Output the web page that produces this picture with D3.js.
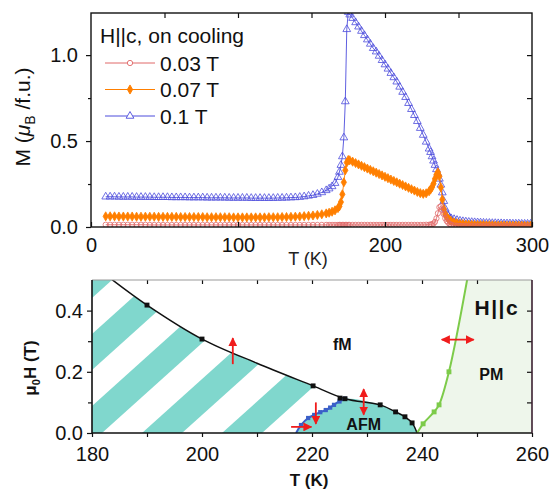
<!DOCTYPE html>
<html>
<head>
<meta charset="utf-8">
<script src="https://cdn.jsdelivr.net/npm/d3@7"></script>
<style>
  body { margin: 0; background: #fff; }
  svg { display: block; font-family: Arial, "Liberation Sans", sans-serif; }
</style>
</head>
<body>
<svg id="chart" width="550" height="489"></svg>
<script>
// ---- top panel: M(T) on cooling, H||c ----
const temps = [
  10,13,16,19,22,25,28,31,34,37, 40,43,46,49,52,55,58,61,64,67,
  70,73,76,79,82,85,88,91,94,97, 100,103,106,109,112,115,118,121,124,127,
  130,133,136,139,142,145,148,
  151,154,157,160,162,164,166,168,169,170,171,172,173,174,175,176,178,180,
  182,184,186,188,190,192,194,196,198,200, 202,204,206,208,210,212,214,216,218,220,
  222,224,226,228,230,
  231,232,233,234,235,236,237,238,239,240,241,242,243,244,245,
  247,249,251,253,255,257,259,261,263,265, 267,269,271,273,275,277,279,281,283,285,
  287,289,291,293,295,297,299
];
const m01 = [
  .176,.176,.176,.175,.175,.175,.175,.174,.174,.174, .174,.173,.173,.173,.173,.172,.172,.172,.172,.171,
  .171,.171,.171,.170,.170,.170,.170,.170,.169,.169, .169,.169,.169,.168,.168,.168,.168,.168,.168,.169,
  .169,.170,.171,.172,.174,.177,.181,
  .185,.192,.201,.213,.223,.236,.255,.29,.32,.36,.41,.52,.73,1.15,1.25,1.235,1.215,1.19,
  1.165,1.14,1.115,1.09,1.065,1.04,1.02,.995,.97,.945, .92,.895,.87,.845,.815,.785,.755,.72,.685,.65,
  .615,.575,.535,.495,.455,
  .435,.41,.385,.36,.335,.31,.28,.245,.20,.15,.105,.08,.065,.055,.05,
  .045,.04,.036,.033,.031,.029,.028,.027,.026,.025, .024,.023,.023,.022,.022,.021,.021,.020,.020,.020,
  .019,.019,.019,.018,.018,.018,.018
];
const m007 = [
  .062,.062,.062,.061,.061,.061,.061,.060,.060,.060, .060,.060,.059,.059,.059,.059,.059,.058,.058,.058,
  .058,.058,.058,.057,.057,.057,.057,.057,.057,.056, .056,.056,.056,.056,.056,.056,.056,.057,.057,.057,
  .058,.058,.059,.060,.061,.063,.065,
  .067,.070,.074,.079,.083,.089,.097,.11,.12,.145,.19,.26,.33,.375,.39,.388,.38,.372,
  .364,.356,.348,.340,.332,.324,.316,.308,.300,.292, .284,.276,.268,.260,.252,.244,.236,.228,.220,.212,
  .204,.197,.193,.196,.208,
  .218,.232,.252,.28,.305,.318,.295,.23,.16,.105,.075,.058,.048,.04,.034,
  .027,.022,.019,.017,.015,.014,.013,.012,.012,.011, .011,.010,.010,.010,.009,.009,.009,.009,.008,.008,
  .008,.008,.008,.008,.007,.007,.007
];
const m003 = [
  .013,.013,.013,.013,.013,.013,.013,.013,.013,.013, .012,.012,.012,.012,.012,.012,.012,.012,.012,.012,
  .012,.012,.012,.012,.012,.012,.012,.012,.012,.012, .012,.012,.012,.012,.012,.012,.012,.012,.012,.012,
  .012,.012,.012,.012,.012,.012,.012,
  .012,.012,.012,.012,.012,.012,.012,.012,.012,.012,.012,.012,.012,.012,.012,.012,.012,.012,
  .012,.012,.012,.012,.012,.012,.012,.012,.012,.012, .012,.012,.012,.012,.012,.012,.012,.012,.012,.012,
  .012,.012,.012,.013,.013,
  .014,.016,.02,.03,.05,.08,.115,.12,.10,.075,.05,.035,.025,.018,.013,
  .009,.007,.006,.006,.005,.005,.005,.005,.005,.005, .005,.005,.005,.005,.005,.005,.005,.005,.005,.005,
  .005,.005,.005,.005,.005,.005,.005
];
const topXTicks = [0, 100, 200, 300];
const topYTicks = [0, 0.5, 1.0];
const legendLabels = ['0.03 T', '0.07 T', '0.1 T'];

// ---- bottom panel: phase diagram ----
const fmT = [183, 190, 200, 210, 220.2, 226, 232.4, 235.2, 236.9, 238.2, 239.1];
const fmH = [0.51, 0.418, 0.307, 0.228, 0.154, 0.112, 0.092, 0.069, 0.053, 0.033, 0];
const fmMarkT = [190, 200, 220.2, 225.1, 226, 232.4, 235.2, 236.9, 238.2];
const fmMarkH = [0.418, 0.307, 0.154, 0.114, 0.112, 0.092, 0.069, 0.053, 0.033];
const afmT = [217.1, 218, 219.3, 220.4, 221.5, 222.5, 223.3, 224, 225, 226];
const afmH = [0, 0.026, 0.049, 0.059, 0.068, 0.075, 0.083, 0.092, 0.103, 0.112];
const pmT = [239.1, 240.2, 242.2, 243.1, 244.9, 248.3];
const pmH = [0, 0.03, 0.069, 0.092, 0.2, 0.51];
const arrowFrom = [[205.6, 0.225], [229.4, 0.06], [220.7, 0.10], [216.2, 0.02], [243.6, 0.305]];
const arrowTo   = [[205.6, 0.31],  [229.4, 0.143], [220.7, 0.03], [219.9, 0.02], [249.4, 0.305]];
const arrowBoth = [false, true, false, false, true];
const botXTicks = [180, 200, 220, 240, 260];
const botYTicks = [0, 0.2, 0.4];

const svg = d3.select('#chart');
const defs = svg.append('defs');

function styleAxis(g, size) {
  g.select('.domain').remove();
  g.selectAll('.tick line').attr('stroke', '#111').attr('stroke-width', 1.2);
  g.selectAll('.tick text').attr('fill', '#111').style('font-size', size + 'px');
}

// ================= top panel =================
const x1 = d3.scaleLinear().domain([0, 300]).range([91, 532]);
const y1 = d3.scaleLinear().domain([0, 1.245]).range([227, 13]);

defs.append('clipPath').attr('id', 'clipTop').append('rect')
  .attr('x', 91).attr('y', 13).attr('width', 441).attr('height', 214);

const series = [
  { values: m01, color: '#4d4ddc', symbol: d3.symbolTriangle, size: 26, filled: false },
  { values: m007, color: '#ff7f00', symbol: d3.symbolDiamond, size: 24, filled: true },
  { values: m003, color: '#e06868', symbol: d3.symbolCircle, size: 22, filled: false }
];

const plotTop = svg.append('g').attr('clip-path', 'url(#clipTop)');
series.forEach(s => {
  const line = d3.line().x((d, i) => x1(temps[i])).y(d => y1(d));
  plotTop.append('path').attr('d', line(s.values))
    .attr('fill', 'none').attr('stroke', s.color).attr('stroke-width', 0.9);
  plotTop.append('g').selectAll('path').data(s.values).join('path')
    .attr('d', d3.symbol(s.symbol, s.size))
    .attr('transform', (d, i) => `translate(${x1(temps[i])},${y1(d)})`)
    .attr('fill', s.filled ? s.color : 'none')
    .attr('stroke', s.color).attr('stroke-width', 0.8);
});

// axes
svg.append('g').attr('transform', 'translate(91,0)')
  .call(d3.axisLeft(y1).tickValues(topYTicks).tickFormat(d3.format('.1f')).tickSize(5).tickPadding(8))
  .call(g => styleAxis(g, 20));
svg.append('g').attr('transform', 'translate(91,0)')
  .call(d3.axisLeft(y1).tickValues([0.25, 0.75]).tickFormat('').tickSize(3))
  .call(g => styleAxis(g, 20));
svg.append('g').attr('transform', 'translate(0,227)')
  .call(d3.axisBottom(x1).tickValues(topXTicks).tickFormat(d3.format('d')).tickSize(-5).tickPadding(11))
  .call(g => styleAxis(g, 20));
svg.append('g').attr('transform', 'translate(0,13)')
  .call(d3.axisTop(x1).tickValues(d3.range(50, 300, 50)).tickFormat('').tickSize(-5))
  .call(g => styleAxis(g, 20));
svg.append('g').attr('transform', 'translate(532,0)')
  .call(d3.axisRight(y1).tickValues([0.25, 0.5, 0.75, 1.0]).tickFormat('').tickSize(-5))
  .call(g => styleAxis(g, 20));
svg.append('rect').attr('x', 91).attr('y', 13).attr('width', 441).attr('height', 214)
  .attr('fill', 'none').attr('stroke', '#111').attr('stroke-width', 1.4);

// legend
const leg = svg.append('g');
leg.append('text').attr('x', 100).attr('y', 43).style('font-size', '21px').attr('fill', '#111')
  .text('H||c, on cooling');
[series[2], series[1], series[0]].forEach((s, i) => {
  const cy = 63 + i * 26.5;
  leg.append('line').attr('x1', 105).attr('x2', 155).attr('y1', cy).attr('y2', cy)
    .attr('stroke', s.color).attr('stroke-width', 1);
  leg.append('path').attr('d', d3.symbol(s.symbol, s.size)())
    .attr('transform', `translate(130,${cy})`)
    .attr('fill', s.filled ? s.color : '#fff').attr('stroke', s.color).attr('stroke-width', 0.9);
  leg.append('text').attr('x', 160).attr('y', cy + 7.5).style('font-size', '21px').attr('fill', '#111')
    .text(legendLabels[i]);
});

// axis titles
const yl = svg.append('text').attr('transform', 'translate(30,117) rotate(-90)')
  .attr('text-anchor', 'middle').style('font-size', '21px').attr('fill', '#111');
yl.append('tspan').text('M (');
yl.append('tspan').style('font-style', 'italic').text('\u03bc');
yl.append('tspan').attr('dy', 5).style('font-size', '14px').text('B');
yl.append('tspan').attr('dy', -5).text(' /f.u.)');
svg.append('text').attr('x', 308).attr('y', 265).attr('text-anchor', 'middle')
  .style('font-size', '18px').attr('fill', '#222').text('T (K)');

// ================= bottom panel =================
const x2 = d3.scaleLinear().domain([180, 260]).range([92, 532]);
const y2 = d3.scaleLinear().domain([0, 0.5]).range([433, 280]);
const cyan = '#80d7cd';

defs.append('clipPath').attr('id', 'clipBot').append('rect')
  .attr('x', 92).attr('y', 280).attr('width', 440).attr('height', 153);

const pts = (ts, hs) => ts.map((t, i) => [x2(t), y2(hs[i])]);
const curve = d3.curveCatmullRom;
const plotBot = svg.append('g').attr('clip-path', 'url(#clipBot)');

// PM region
const pmPts = pts(pmT, pmH);
const pmPath = d3.line().curve(curve)(pmPts) +
  `L${x2(260)},${pmPts[pmPts.length - 1][1]}L${x2(260)},${y2(0)}Z`;
plotBot.append('path').attr('d', pmPath).attr('fill', '#eef6eb');

// striped region below fM boundary
const sc = defs.append('clipPath').attr('id', 'clipStripe');
sc.append('rect').attr('x', x2(180)).attr('y', 270).attr('width', x2(fmT[0]) - x2(180)).attr('height', 170);
sc.append('path').attr('d', d3.area().curve(curve).x(d => d[0]).y0(y2(0)).y1(d => d[1])(pts(fmT, fmH)));
const stripes = plotBot.append('g').attr('clip-path', 'url(#clipStripe)');
const period = 80, band = 40, shift = (y2(0) - y2(0.5)) / 0.9, x0 = 62;
stripes.selectAll('path').data(d3.range(-4, 7)).join('path')
  .attr('d', k => {
    const a = x0 + k * period;
    return `M${a},${y2(0)}L${a + band},${y2(0)}L${a + band + shift},${y2(0.5)}L${a + shift},${y2(0.5)}Z`;
  })
  .attr('fill', cyan);

// AFM dome
const domeIdx = fmT.findIndex(t => t > 226);
const afmPts = pts(afmT, afmH).concat(pts(fmT.slice(domeIdx), fmH.slice(domeIdx)));
plotBot.append('path').attr('d', d3.line().curve(curve)(afmPts) + 'Z').attr('fill', cyan);

// boundary lines
plotBot.append('path').attr('d', d3.line().curve(curve)(pts(fmT, fmH)))
  .attr('fill', 'none').attr('stroke', '#111').attr('stroke-width', 1.5);
plotBot.append('path').attr('d', d3.line().curve(curve)(pts(afmT, afmH)))
  .attr('fill', 'none').attr('stroke', '#3a5fc8').attr('stroke-width', 2);
plotBot.append('path').attr('d', d3.line().curve(curve)(pmPts))
  .attr('fill', 'none').attr('stroke', '#7dcb4a').attr('stroke-width', 2);

function squares(ts, hs, color, size) {
  plotBot.append('g').selectAll('path').data(ts).join('path')
    .attr('d', d3.symbol(d3.symbolSquare, size))
    .attr('transform', (t, i) => `translate(${x2(t)},${y2(hs[i])})`)
    .attr('fill', color);
}
squares(afmT.slice(1), afmH.slice(1), '#3a5fc8', 18);
squares(fmMarkT, fmMarkH, '#111', 24);
squares(pmT.slice(1), pmH.slice(1), '#7dcb4a', 24);

// arrows
defs.append('marker').attr('id', 'head').attr('viewBox', '0 0 10 10')
  .attr('refX', 9).attr('refY', 5).attr('markerUnits', 'userSpaceOnUse')
  .attr('markerWidth', 9).attr('markerHeight', 9).attr('orient', 'auto-start-reverse')
  .append('path').attr('d', 'M0,0L10,5L0,10Z').attr('fill', '#f01c1c');
arrowFrom.forEach((f, i) => {
  const t = arrowTo[i];
  const a = svg.append('line')
    .attr('x1', x2(f[0])).attr('y1', y2(f[1])).attr('x2', x2(t[0])).attr('y2', y2(t[1]))
    .attr('stroke', '#f01c1c').attr('stroke-width', 1.8)
    .attr('marker-end', 'url(#head)');
  if (arrowBoth[i]) a.attr('marker-start', 'url(#head)');
});

// region labels
const lab = (txt, t, h, size) => svg.append('text').attr('x', x2(t)).attr('y', y2(h))
  .attr('text-anchor', 'middle').style('font-size', size + 'px').style('font-weight', 'bold')
  .attr('fill', '#111').text(txt);
lab('fM', 225.5, 0.272, 16);
lab('AFM', 229.4, 0.01, 16);
lab('PM', 252.6, 0.174, 16);
lab('H||c', 253.6, 0.386, 21).style('letter-spacing', '1.5px');

// axes
svg.append('g').attr('transform', 'translate(92,0)')
  .call(d3.axisLeft(y2).tickValues(botYTicks).tickFormat(d3.format('.1f')).tickSize(5).tickPadding(4))
  .call(g => styleAxis(g, 20));
svg.append('g').attr('transform', 'translate(92,0)')
  .call(d3.axisLeft(y2).tickValues([0.1, 0.3]).tickFormat('').tickSize(4))
  .call(g => styleAxis(g, 20));
svg.append('g').attr('transform', 'translate(0,433)')
  .call(d3.axisBottom(x2).tickValues(botXTicks).tickFormat(d3.format('d')).tickSize(4).tickPadding(10))
  .call(g => styleAxis(g, 20));
svg.append('g').attr('transform', 'translate(0,433)')
  .call(d3.axisBottom(x2).tickValues([190, 210, 230, 250]).tickFormat('').tickSize(4))
  .call(g => styleAxis(g, 20));
svg.append('g').attr('transform', 'translate(0,280)')
  .call(d3.axisTop(x2).tickValues(d3.range(190, 260, 10)).tickFormat('').tickSize(-4))
  .call(g => styleAxis(g, 20));
svg.append('g').attr('transform', 'translate(532,0)')
  .call(d3.axisRight(y2).tickValues([0.1, 0.2, 0.3, 0.4]).tickFormat('').tickSize(-5))
  .call(g => styleAxis(g, 20));
svg.append('path').attr('d', 'M92,280H532').attr('stroke', '#999').attr('stroke-width', 1.2);
svg.append('path').attr('d', 'M92,280V433H532').attr('fill', 'none').attr('stroke', '#111').attr('stroke-width', 1.6);
svg.append('path').attr('d', 'M532,280V433').attr('stroke', '#3a2030').attr('stroke-width', 1.6);

// axis titles
const yl2 = svg.append('text').attr('transform', 'translate(36,368) rotate(-90)')
  .attr('text-anchor', 'middle').style('font-size', '17px').style('font-weight', 'bold').attr('fill', '#111');
yl2.append('tspan').text('\u03bc');
yl2.append('tspan').attr('dy', 4).style('font-size', '11px').text('0');
yl2.append('tspan').attr('dy', -4).text('H (T)');
svg.append('text').attr('x', 309).attr('y', 486).attr('text-anchor', 'middle')
  .style('font-size', '17px').style('font-weight', 'bold').attr('fill', '#111').text('T (K)');
</script>
</body>
</html>
